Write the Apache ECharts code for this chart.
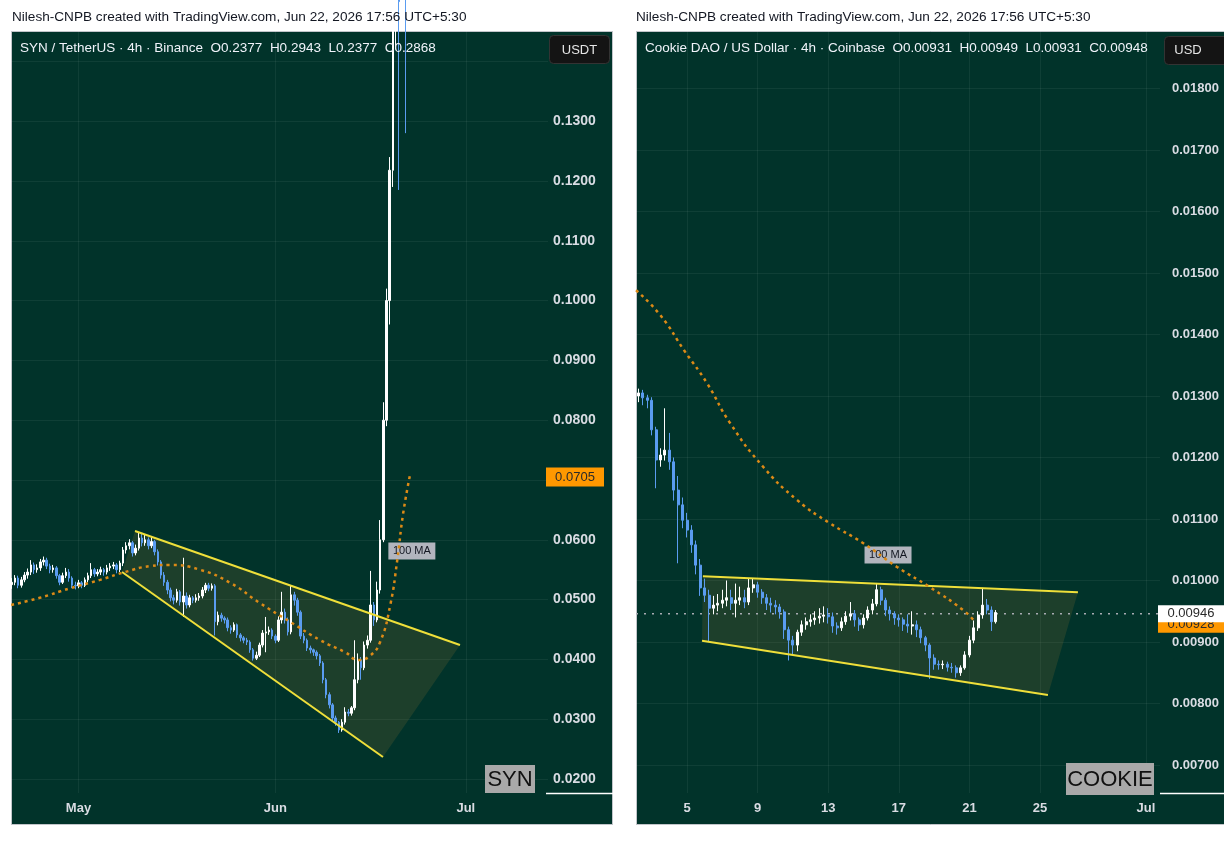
<!DOCTYPE html>
<html>
<head>
<meta charset="utf-8">
<title>SYN / COOKIE 4h</title>
<script src="https://cdn.jsdelivr.net/npm/echarts@6/dist/echarts.min.js"></script>
<style>
  html, body { margin: 0; padding: 0; background: #fff; }
  #main { width: 1224px; height: 850px; }
</style>
</head>
<body>
<div id="main"></div>
<script>
// ---------- SYN / TetherUS (left), x = days counted from Apr 1 ----------
var synStartDay = 19.5;   // first bar: Apr 20 12:00
var synStepDay = 0.5;     // 12h bars
// [open, close, low, high]
var synBars = [
  [0.0525,0.0529,0.0518,0.0536],[0.0529,0.0536,0.0524,0.0541],[0.0536,0.0524,0.0519,0.0540],[0.0524,0.0533,0.0520,0.0538],
  [0.0533,0.0541,0.0529,0.0546],[0.0541,0.0546,0.0535,0.0552],[0.0546,0.0558,0.0541,0.0566],[0.0558,0.0550,0.0543,0.0562],
  [0.0550,0.0553,0.0545,0.0559],[0.0553,0.0563,0.0548,0.0568],[0.0563,0.0566,0.0557,0.0572],[0.0566,0.0556,0.0551,0.0570],
  [0.0556,0.0550,0.0544,0.0560],[0.0550,0.0553,0.0545,0.0558],[0.0553,0.0540,0.0535,0.0556],[0.0540,0.0529,0.0524,0.0543],
  [0.0529,0.0540,0.0526,0.0545],[0.0540,0.0546,0.0536,0.0553],[0.0546,0.0536,0.0530,0.0551],[0.0536,0.0524,0.0519,0.0539],
  [0.0524,0.0523,0.0517,0.0530],[0.0523,0.0528,0.0519,0.0533],[0.0528,0.0524,0.0519,0.0531],[0.0524,0.0533,0.0521,0.0537],
  [0.0533,0.0540,0.0529,0.0545],[0.0540,0.0550,0.0536,0.0561],[0.0550,0.0543,0.0538,0.0553],[0.0543,0.0546,0.0539,0.0551],
  [0.0546,0.0550,0.0541,0.0555],[0.0550,0.0546,0.0540,0.0553],[0.0546,0.0553,0.0542,0.0558],[0.0553,0.0556,0.0548,0.0561],
  [0.0556,0.0558,0.0551,0.0563],[0.0558,0.0550,0.0544,0.0561],[0.0550,0.0561,0.0546,0.0565],[0.0561,0.0583,0.0556,0.0588],
  [0.0583,0.0590,0.0577,0.0596],[0.0590,0.0595,0.0584,0.0601],[0.0595,0.0578,0.0572,0.0598],[0.0578,0.0586,0.0574,0.0592],
  [0.0586,0.0603,0.0582,0.0612],[0.0603,0.0595,0.0589,0.0610],[0.0595,0.0600,0.0590,0.0608],[0.0600,0.0590,0.0584,0.0604],
  [0.0590,0.0597,0.0586,0.0605],[0.0597,0.0580,0.0574,0.0600],[0.0580,0.0563,0.0557,0.0584],[0.0563,0.0541,0.0535,0.0566],
  [0.0541,0.0529,0.0523,0.0546],[0.0529,0.0516,0.0509,0.0533],[0.0516,0.0503,0.0497,0.0520],[0.0503,0.0499,0.0492,0.0508],
  [0.0499,0.0513,0.0495,0.0518],[0.0513,0.0496,0.0490,0.0516],[0.0496,0.0506,0.0471,0.0570],[0.0506,0.0491,0.0485,0.0512],
  [0.0491,0.0503,0.0487,0.0508],[0.0503,0.0499,0.0494,0.0506],[0.0499,0.0503,0.0495,0.0509],[0.0503,0.0506,0.0498,0.0511],
  [0.0506,0.0516,0.0502,0.0521],[0.0516,0.0524,0.0511,0.0528],[0.0524,0.0519,0.0514,0.0528],[0.0519,0.0523,0.0515,0.0527],
  [0.0523,0.0463,0.0440,0.0526],[0.0463,0.0474,0.0457,0.0480],[0.0474,0.0469,0.0463,0.0478],[0.0469,0.0466,0.0460,0.0472],
  [0.0466,0.0453,0.0447,0.0470],[0.0453,0.0449,0.0443,0.0457],[0.0449,0.0458,0.0446,0.0462],[0.0458,0.0441,0.0436,0.0460],
  [0.0441,0.0436,0.0430,0.0444],[0.0436,0.0432,0.0427,0.0439],[0.0432,0.0429,0.0424,0.0436],[0.0429,0.0416,0.0411,0.0432],
  [0.0416,0.0402,0.0398,0.0419],[0.0402,0.0407,0.0399,0.0413],[0.0407,0.0424,0.0404,0.0428],[0.0424,0.0444,0.0420,0.0449],
  [0.0444,0.0446,0.0412,0.0471],[0.0446,0.0449,0.0441,0.0455],[0.0449,0.0439,0.0434,0.0452],[0.0439,0.0432,0.0427,0.0442],
  [0.0432,0.0466,0.0429,0.0472],[0.0466,0.0479,0.0460,0.0513],[0.0479,0.0466,0.0460,0.0485],[0.0466,0.0446,0.0440,0.0470],
  [0.0446,0.0508,0.0442,0.0524],[0.0508,0.0499,0.0490,0.0513],[0.0499,0.0479,0.0473,0.0503],[0.0479,0.0439,0.0434,0.0482],
  [0.0439,0.0432,0.0427,0.0444],[0.0432,0.0419,0.0414,0.0435],[0.0419,0.0416,0.0410,0.0423],[0.0416,0.0412,0.0406,0.0418],
  [0.0412,0.0406,0.0400,0.0415],[0.0406,0.0394,0.0389,0.0409],[0.0394,0.0366,0.0360,0.0397],[0.0366,0.0341,0.0335,0.0369],
  [0.0341,0.0324,0.0318,0.0345],[0.0324,0.0302,0.0297,0.0327],[0.0302,0.0295,0.0289,0.0306],[0.0295,0.0282,0.0277,0.0297],
  [0.0282,0.0295,0.0279,0.0300],[0.0295,0.0312,0.0291,0.0320],[0.0312,0.0310,0.0305,0.0317],[0.0310,0.0319,0.0306,0.0322],
  [0.0319,0.0366,0.0315,0.0432],[0.0366,0.0399,0.0360,0.0410],[0.0399,0.0386,0.0366,0.0404],[0.0386,0.0424,0.0382,0.0430],
  [0.0424,0.0432,0.0418,0.0440],[0.0432,0.0491,0.0428,0.0548],[0.0491,0.0466,0.0456,0.0496],[0.0466,0.0516,0.0462,0.0530],
  [0.0516,0.0600,0.0510,0.0633],[0.0600,0.0800,0.0596,0.0830],[0.0800,0.1000,0.0790,0.1020],[0.1000,0.1218,0.0960,0.1240],
  [0.1218,0.1470,0.1190,0.1520],[0.1470,0.1700,0.1420,0.1800],[0.1700,0.1500,0.1185,0.1760],[0.1500,0.2200,0.1460,0.2300],
  [0.2200,0.1900,0.1280,0.2250],[0.2377,0.2868,0.2377,0.2943]
];
// 100 MA
var synMaDays   = [19.4, 23.9, 28.7, 33.4, 37.3, 41.3, 44.4, 49.1, 53.9, 58.6, 63.3, 68.1, 72.0, 74.1, 75.9, 77.5, 79.1, 80.2, 81.1, 82.2];
var synMaValues = [0.0491, 0.0503, 0.0519, 0.0533, 0.0546, 0.0556, 0.0558, 0.0550, 0.0528, 0.0494, 0.0463, 0.0432, 0.0412, 0.0399, 0.0406, 0.0429, 0.0491, 0.0566, 0.0642, 0.0708];
var synMaLast = 0.0705;
// falling wedge
var synUpperDays = [38.90, 90.08], synUpperPrices = [0.06147, 0.04241];
var synLowerDays = [36.85, 77.95], synLowerPrices = [0.05462, 0.02368];
var synPriceTicks  = [0.02, 0.03, 0.04, 0.05, 0.06, 0.07, 0.08, 0.09, 0.10, 0.11, 0.12, 0.13, 0.14];
var synPriceLabels = [0.02, 0.03, 0.04, 0.05, 0.06, 0.08, 0.09, 0.10, 0.11, 0.12, 0.13];
var synMonthDays  = [30, 61, 91];
var synMonthNames = ['May', 'Jun', 'Jul'];
var synDayRange = [19.37, 103.94];

// ---------- Cookie DAO / US Dollar (right), x = day of June ----------
var cookieStartDay = 2.25;  // first bar: Jun 2 06:00
var cookieStepDay = 0.25;   // 6h bars
var cookieBars = [
  [0.01300,0.01305,0.01290,0.01312],[0.01305,0.01297,0.01285,0.01310],[0.01297,0.01293,0.01280,0.01302],[0.01293,0.01245,0.01236,0.01298],
  [0.01245,0.01196,0.01150,0.01250],[0.01196,0.01204,0.01185,0.01215],[0.01204,0.01212,0.01195,0.01280],[0.01212,0.01193,0.01180,0.01240],
  [0.01193,0.01147,0.01130,0.01200],[0.01147,0.01123,0.01028,0.01170],[0.01123,0.01098,0.01085,0.01135],[0.01098,0.01082,0.01070,0.01110],
  [0.01082,0.01058,0.01045,0.01090],[0.01058,0.01025,0.01010,0.01065],[0.01025,0.00988,0.00975,0.01035],[0.00988,0.00976,0.00965,0.01003],
  [0.00976,0.00955,0.00900,0.00985],[0.00955,0.00960,0.00945,0.00975],[0.00960,0.00963,0.00950,0.00978],[0.00963,0.00968,0.00955,0.00985],
  [0.00968,0.00972,0.00958,0.01000],[0.00972,0.00963,0.00952,0.00985],[0.00963,0.00968,0.00940,0.00995],[0.00968,0.00972,0.00960,0.00990],
  [0.00972,0.00965,0.00955,0.00985],[0.00965,0.00988,0.00960,0.01003],[0.00988,0.00993,0.00980,0.01003],[0.00993,0.00981,0.00972,0.00998],
  [0.00981,0.00972,0.00962,0.00986],[0.00972,0.00963,0.00952,0.00978],[0.00963,0.00960,0.00948,0.00972],[0.00960,0.00957,0.00945,0.00968],
  [0.00957,0.00949,0.00938,0.00962],[0.00949,0.00920,0.00905,0.00953],[0.00920,0.00903,0.00870,0.00925],[0.00903,0.00895,0.00880,0.00910],
  [0.00895,0.00916,0.00885,0.00920],[0.00916,0.00928,0.00910,0.00935],[0.00928,0.00933,0.00920,0.00940],[0.00933,0.00936,0.00925,0.00945],
  [0.00936,0.00939,0.00928,0.00950],[0.00939,0.00942,0.00930,0.00955],[0.00942,0.00944,0.00932,0.00958],[0.00944,0.00941,0.00930,0.00955],
  [0.00941,0.00926,0.00915,0.00948],[0.00926,0.00923,0.00912,0.00932],[0.00923,0.00933,0.00918,0.00940],[0.00933,0.00942,0.00928,0.00950],
  [0.00942,0.00946,0.00935,0.00965],[0.00946,0.00936,0.00925,0.00952],[0.00936,0.00928,0.00918,0.00940],[0.00928,0.00939,0.00922,0.00945],
  [0.00939,0.00952,0.00935,0.00958],[0.00952,0.00962,0.00945,0.00970],[0.00962,0.00985,0.00958,0.00996],[0.00985,0.00968,0.00960,0.00990],
  [0.00968,0.00952,0.00942,0.00972],[0.00952,0.00946,0.00935,0.00958],[0.00946,0.00939,0.00928,0.00950],[0.00939,0.00936,0.00925,0.00945],
  [0.00936,0.00929,0.00918,0.00940],[0.00929,0.00926,0.00915,0.00945],[0.00926,0.00928,0.00912,0.00950],[0.00928,0.00920,0.00908,0.00935],
  [0.00920,0.00907,0.00898,0.00925],[0.00907,0.00895,0.00885,0.00910],[0.00895,0.00874,0.00840,0.00898],[0.00874,0.00864,0.00855,0.00880],
  [0.00864,0.00863,0.00855,0.00870],[0.00863,0.00864,0.00856,0.00870],[0.00864,0.00859,0.00852,0.00868],[0.00859,0.00858,0.00850,0.00866],
  [0.00858,0.00850,0.00842,0.00862],[0.00850,0.00858,0.00845,0.00862],[0.00858,0.00879,0.00855,0.00885],[0.00879,0.00903,0.00875,0.00910],
  [0.00903,0.00923,0.00898,0.00935],[0.00923,0.00944,0.00918,0.00950],[0.00944,0.00960,0.00938,0.00988],[0.00960,0.00952,0.00945,0.00970],
  [0.00952,0.00933,0.00918,0.00958],[0.00933,0.00948,0.00930,0.00952]
];
var cookieMaDays   = [2.11, 3.47, 4.89, 6.13, 7.44, 9.31, 11.23, 13.10, 14.97, 16.90, 18.77, 20.64, 21.32];
var cookieMaValues = [0.01472, 0.01432, 0.01372, 0.01321, 0.01256, 0.01185, 0.01131, 0.01093, 0.01061, 0.01022, 0.00989, 0.00952, 0.00933];
var cookieMaLast = 0.00928;
var cookieLastPrice = 0.00946;
var cookieUpperDays = [5.90, 27.15], cookieUpperPrices = [0.01007, 0.00981];
var cookieLowerDays = [5.85, 25.45], cookieLowerPrices = [0.00902, 0.00814];
var cookiePriceTicks = [0.007, 0.008, 0.009, 0.010, 0.011, 0.012, 0.013, 0.014, 0.015, 0.016, 0.017, 0.018];
var cookieDayTicks  = [5, 9, 13, 17, 21, 25, 31];
var cookieDayNames  = ['5', '9', '13', '17', '21', '25', 'Jul'];
var cookieDayRange = [2.11, 31.8];

// ---------- helpers ----------
function toBars(start, step, rows) {
  return rows.map(function (r, i) { return [start + i * step, r[0], r[1], r[2], r[3]]; });
}
function pairs(xs, ys) {
  return xs.map(function (x, i) { return [x, ys[i]]; });
}

var BG = '#01332a';
var GRIDLINE = 'rgba(255,255,255,0.06)';
var UP = '#ffffff', DOWN = '#5a9cf0';
var WEDGE = '#efdf3a';
var MA = '#dc8a16';
var AXISTXT = '#d9dce3';

function candles(name, idx, data, w) {
  return {
    name: name, type: 'candlestick', xAxisIndex: idx, yAxisIndex: idx,
    data: data, barWidth: w, clip: true, z: 4,
    itemStyle: { color: UP, color0: DOWN, borderColor: UP, borderColor0: DOWN, borderWidth: 1 }
  };
}
function wedgeFill(idx, upX, upY, loX, loY) {
  // polygon: lower start, upper start, upper end, lower end
  var verts = [[loX[0], loY[0]], [upX[0], upY[0]], [upX[1], upY[1]], [loX[1], loY[1]]];
  return {
    type: 'custom', xAxisIndex: idx, yAxisIndex: idx, z: 2, clip: true,
    data: verts,
    renderItem: function (params, api) {
      if (params.dataIndex !== 0) return;
      var pts = verts.map(function (v) { return api.coord(v); });
      return { type: 'polygon', shape: { points: pts }, style: { fill: 'rgba(130,108,50,0.22)' } };
    }
  };
}
function wedgeLine(idx, xs, ys) {
  return {
    type: 'line', xAxisIndex: idx, yAxisIndex: idx, z: 5,
    data: pairs(xs, ys), symbol: 'none', lineStyle: { color: WEDGE, width: 2 }
  };
}
function maLine(idx, xs, ys, labelAt) {
  return {
    type: 'line', xAxisIndex: idx, yAxisIndex: idx, z: 6,
    data: pairs(xs, ys), smooth: true, symbol: 'none',
    lineStyle: { color: MA, width: 2.5, type: [3, 4] },
    markPoint: {
      symbol: 'rect', symbolSize: [47, 17],
      itemStyle: { color: '#b2b5be' },
      label: { show: true, formatter: '100 MA', color: '#131722', fontSize: 11 },
      data: [{ coord: labelAt }]
    }
  };
}
// price tag on the price scale: a box anchored at the right edge of the plot
function priceTag(idx, xMax, value, text, bg, w, h, z) {
  return {
    type: 'scatter', xAxisIndex: idx, yAxisIndex: idx, z: z, clip: false, silent: true,
    data: [[xMax, value]],
    symbol: 'rect', symbolSize: [w, h], symbolOffset: [w / 2 - 2, 0],
    itemStyle: { color: bg, opacity: 1 },
    label: { show: true, position: 'inside', formatter: text, color: '#2a2a2a', fontSize: 13 }
  };
}

var myChart = echarts.init(document.getElementById('main'));

var option = {
  animation: false,
  backgroundColor: '#ffffff',
  textStyle: { fontFamily: 'Liberation Sans' },
  grid: [
    { left: 11, top: 31, width: 537, height: 762 },
    { left: 636, top: 31, width: 524, height: 762 }
  ],
  xAxis: [
    {
      type: 'value', gridIndex: 0, min: synDayRange[0], max: synDayRange[1],
      axisLine: { show: false },
      axisTick: { show: false, customValues: synMonthDays },
      axisLabel: {
        customValues: synMonthDays, margin: 9, color: AXISTXT, fontSize: 13, fontWeight: 'bold',
        formatter: function (v) { return synMonthNames[synMonthDays.indexOf(v)]; }
      },
      splitLine: { show: true, lineStyle: { color: GRIDLINE } }
    },
    {
      type: 'value', gridIndex: 1, min: cookieDayRange[0], max: cookieDayRange[1],
      axisLine: { show: false },
      axisTick: { show: false, customValues: cookieDayTicks },
      axisLabel: {
        customValues: cookieDayTicks, margin: 9, color: AXISTXT, fontSize: 13, fontWeight: 'bold',
        formatter: function (v) { return cookieDayNames[cookieDayTicks.indexOf(v)]; }
      },
      splitLine: { show: true, lineStyle: { color: GRIDLINE } }
    }
  ],
  yAxis: [
    {
      type: 'value', gridIndex: 0, position: 'right', min: 0.01766, max: 0.14508,
      axisLine: { show: false },
      axisTick: { show: false, customValues: synPriceTicks },
      axisLabel: {
        customValues: synPriceLabels, margin: 5, color: AXISTXT, fontSize: 14, fontWeight: 'bold',
        formatter: function (v) { return v.toFixed(4); }
      },
      splitLine: { show: true, lineStyle: { color: GRIDLINE } }
    },
    {
      type: 'value', gridIndex: 1, position: 'right', min: 0.006545, max: 0.018935,
      axisLine: { show: false },
      axisTick: { show: false, customValues: cookiePriceTicks },
      axisLabel: {
        customValues: cookiePriceTicks, margin: 12, color: AXISTXT, fontSize: 13, fontWeight: 'bold',
        formatter: function (v) { return v.toFixed(5); }
      },
      splitLine: { show: true, lineStyle: { color: GRIDLINE } }
    }
  ],
  series: [
    // SYN
    wedgeFill(0, synUpperDays, synUpperPrices, synLowerDays, synLowerPrices),
    candles('SYN', 0, toBars(synStartDay, synStepDay, synBars), 2),
    wedgeLine(0, synUpperDays, synUpperPrices),
    wedgeLine(0, synLowerDays, synLowerPrices),
    maLine(0, synMaDays, synMaValues, [82.5, 0.05813]),
    priceTag(0, synDayRange[1], synMaLast, '0.0705', '#ff9800', 58, 19, 30),
    // COOKIE
    wedgeFill(1, cookieUpperDays, cookieUpperPrices, cookieLowerDays, cookieLowerPrices),
    candles('COOKIE', 1, toBars(cookieStartDay, cookieStepDay, cookieBars), 2.5),
    wedgeLine(1, cookieUpperDays, cookieUpperPrices),
    wedgeLine(1, cookieLowerDays, cookieLowerPrices),
    maLine(1, cookieMaDays, cookieMaValues, [16.39, 0.010415]),
    {
      // last-price line
      type: 'line', xAxisIndex: 1, yAxisIndex: 1, z: 3, symbol: 'none', silent: true,
      data: [[cookieDayRange[0], cookieLastPrice], [cookieDayRange[1], cookieLastPrice]],
      lineStyle: { color: '#a8abb2', width: 1.5, type: [2, 6] }
    },
    priceTag(1, cookieDayRange[1], cookieMaLast, '0.00928', '#ff9800', 66, 16, 30),
    priceTag(1, cookieDayRange[1], cookieLastPrice, '0.00946', '#ffffff', 66, 17, 31)
  ],
  graphic: [
    // panels
    { type: 'rect', z: -10, shape: { x: 11.5, y: 31.5, width: 601, height: 793 }, style: { fill: BG, stroke: '#c2c5ca', lineWidth: 1 } },
    { type: 'rect', z: -10, shape: { x: 636.5, y: 31.5, width: 600, height: 793 }, style: { fill: BG, stroke: '#c2c5ca', lineWidth: 1 } },
    // captions
    { type: 'text', z: 20, x: 12, y: 17, style: { text: 'Nilesh-CNPB created with TradingView.com, Jun 22, 2026 17:56 UTC+5:30', fill: '#131722', fontSize: 13.6, fontFamily: 'Liberation Sans', verticalAlign: 'middle' } },
    { type: 'text', z: 20, x: 636, y: 17, style: { text: 'Nilesh-CNPB created with TradingView.com, Jun 22, 2026 17:56 UTC+5:30', fill: '#131722', fontSize: 13.6, fontFamily: 'Liberation Sans', verticalAlign: 'middle' } },
    // legends in the panels
    { type: 'text', z: 20, x: 20, y: 48, style: { text: 'SYN / TetherUS \u00b7 4h \u00b7 Binance  O0.2377  H0.2943  L0.2377  C0.2868', fill: '#f0f3fa', fontSize: 13.5, fontFamily: 'Liberation Sans', verticalAlign: 'middle' } },
    { type: 'text', z: 20, x: 645, y: 48, style: { text: 'Cookie DAO / US Dollar \u00b7 4h \u00b7 Coinbase  O0.00931  H0.00949  L0.00931  C0.00948', fill: '#f0f3fa', fontSize: 13.5, fontFamily: 'Liberation Sans', verticalAlign: 'middle' } },
    // currency buttons
    { type: 'rect', z: 20, shape: { x: 549.5, y: 35.5, width: 60, height: 28, r: 4 }, style: { fill: '#141414', stroke: '#333', lineWidth: 1 } },
    { type: 'text', z: 21, x: 579.5, y: 50, style: { text: 'USDT', fill: '#e6e6e6', fontSize: 13, fontFamily: 'Liberation Sans', align: 'center', verticalAlign: 'middle' } },
    { type: 'rect', z: 20, shape: { x: 1164.5, y: 36.5, width: 70, height: 28, r: 4 }, style: { fill: '#141414', stroke: '#333', lineWidth: 1 } },
    { type: 'text', z: 21, x: 1188, y: 50.5, style: { text: 'USD', fill: '#e6e6e6', fontSize: 13, fontFamily: 'Liberation Sans', align: 'center', verticalAlign: 'middle' } },
    // ticker tags
    { type: 'rect', z: 20, shape: { x: 485, y: 765, width: 50, height: 28 }, style: { fill: '#a9a9a9' } },
    { type: 'text', z: 21, x: 510, y: 780, style: { text: 'SYN', fill: '#111', fontSize: 22, fontFamily: 'Liberation Sans', align: 'center', verticalAlign: 'middle' } },
    { type: 'rect', z: 20, shape: { x: 1066, y: 763, width: 88, height: 32 }, style: { fill: '#a9a9a9' } },
    { type: 'text', z: 21, x: 1110, y: 780, style: { text: 'COOKIE', fill: '#111', fontSize: 22, fontFamily: 'Liberation Sans', align: 'center', verticalAlign: 'middle' } },
    // price-scale corner lines
    { type: 'line', z: 20, shape: { x1: 546, y1: 793.5, x2: 613, y2: 793.5 }, style: { stroke: '#ffffff', lineWidth: 1.5 } },
    { type: 'line', z: 20, shape: { x1: 1160, y1: 793.5, x2: 1224, y2: 793.5 }, style: { stroke: '#ffffff', lineWidth: 1.5 } }
  ]
};

myChart.setOption(option);
</script>
</body>
</html>
